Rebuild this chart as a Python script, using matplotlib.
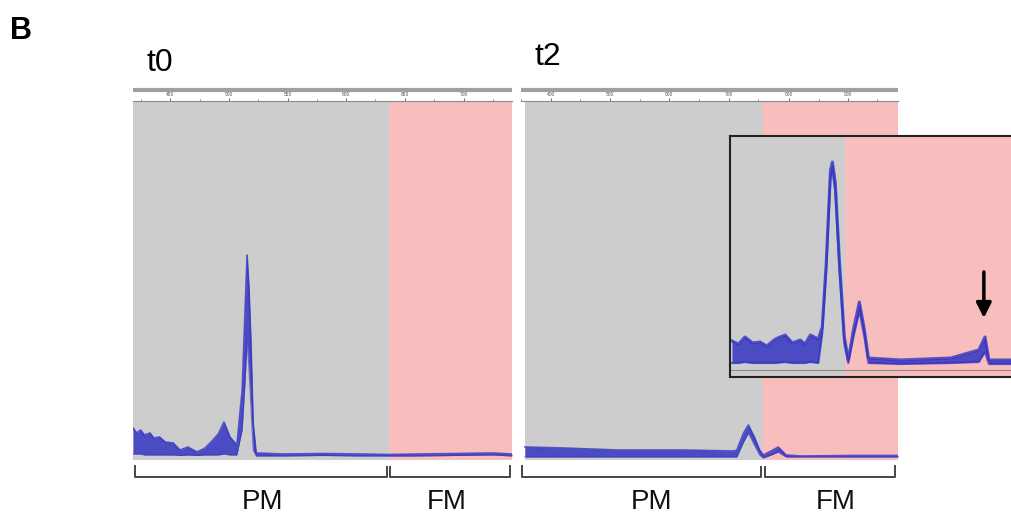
import matplotlib
matplotlib.use("Agg")
import matplotlib.pyplot as plt

plt.rcParams['font.family'] = ['Liberation Sans', 'DejaVu Sans']

W, H = 1012, 515

# ---------------- data ----------------
# t0 trace (x: 0-100 across the panel, y: height units above panel bottom)
t0_x = [0, 1, 2, 3, 4.5, 5.5, 7, 8.5, 10.6, 12.4, 14.5, 16.9, 19, 21.1, 22.5,
        24.0, 25.6, 27.4, 28.8, 29.6, 30.1, 30.6, 31.1, 31.7, 32.5, 40, 50,
        60, 67.5, 75, 85, 95, 100]
t0_upper = [32, 27, 30, 25, 27, 22, 23, 18, 17, 10, 13, 8, 12, 20, 26,
            38, 23, 15, 70, 153, 205, 172, 120, 37, 7, 6, 6.5,
            6, 5.5, 6, 6.5, 7, 6]
t0_lower = [6, 6, 6, 5, 5, 5, 5, 5, 5, 4.5, 5, 4.5, 5, 5, 5,
            6, 5, 5, 30, 80, 120, 90, 55, 10, 4, 4, 4.5,
            4, 4, 4, 4.5, 5, 4]
t0_boundary = 67.5

# t2 trace
t2_x = [0, 10.3, 24.9, 42.2, 56, 56.8, 58.6, 59.9, 61.5, 62.9, 63.9, 66.0,
        67.9, 70.0, 74, 87.3, 100]
t2_upper = [13, 12, 10, 10, 9, 10, 27, 35, 23, 10, 5, 9, 13, 5, 4, 4.5, 4.5]
t2_lower = [3, 3, 3, 3, 3, 3, 18, 27, 15, 5, 2, 5, 8, 3, 3, 3, 3]
t2_boundary = 63.9

# t2 zoomed inset
in_x = [0.7, 3.0, 5.3, 8.0, 10.6, 13.0, 16.0, 19.5, 22.0, 24.8, 26.5, 28.4,
        31.2, 32.6, 34.0, 35.5, 36.2, 37.2, 38.7, 40.4, 41.8, 43.6, 45.7,
        47.5, 48.9, 60.3, 78.0, 87.9, 90.1, 91.5, 100]
in_upper = [36, 33, 40, 34, 35, 31, 38, 42, 34, 37, 33, 42,
            38, 50, 114, 207, 215, 194, 114, 40, 17, 47, 75,
            47, 19, 17, 19, 27, 40, 17, 17]
in_lower = [14, 14, 15, 14, 14, 14, 14, 15, 14, 14, 14, 15,
            14, 44, 106, 199, 205, 186, 106, 33, 14, 40, 66,
            40, 14, 13, 14, 15, 25, 13, 13]
in_boundary = 40.8
arrow_x = 89.7
arrow_y = (105, 59)

# rulers
t0_ticks = [9.8, 25.3, 40.9, 56.2, 71.8, 87.3]
t0_ticklabels = ['450', '500', '550', '600', '650', '700']
t2_ticks = [6.9, 22.8, 38.7, 54.6, 70.8, 86.5]
t2_ticklabels = ['400', '500', '600', '700', '800', '900']

GRAY = '#cdcdcd'
PINK = '#f8bdbd'
BLUE = '#3434c2'


def rect(x0, y0, x1, y1):
    return [x0 / W, 1 - y1 / H, (x1 - x0) / W, (y1 - y0) / H]


fig = plt.figure(figsize=(W / 100, H / 100), dpi=100)


def panel(r, xs, up, lo, boundary, ticks, labels):
    ax = fig.add_axes(rect(*r))
    ax.set_xlim(0, 100)
    ax.set_ylim(0, r[3] - r[1])
    ax.axvspan(0, boundary, color=GRAY, lw=0)
    ax.axvspan(boundary, 100, color=PINK, lw=0)
    ax.fill_between(xs, lo, up, color=BLUE, alpha=0.85, lw=0)
    ax.plot(xs, up, color=BLUE, lw=1.2, alpha=0.8)
    ax.plot(xs, lo, color=BLUE, lw=0.8, alpha=0.6)
    for s in ['left', 'right', 'bottom']:
        ax.spines[s].set_visible(False)
    ax.spines['top'].set_color('#8a8a8a')
    ax.spines['top'].set_linewidth(0.8)
    ax.set_yticks([])
    ax.set_xticks(ticks)
    ax.set_xticklabels(labels)
    step = ticks[1] - ticks[0]
    ax.set_xticks([t + step / 2 for t in ticks[:-1]] +
                  [ticks[0] - step / 2, ticks[-1] + step / 2], minor=True)
    ax.tick_params(axis='x', which='both', top=True, bottom=False, labeltop=True,
                   labelbottom=False, labelsize=3.5, length=2, pad=1,
                   color='#777777', labelcolor='#555555', direction='out')
    ax.tick_params(axis='x', which='minor', length=1.5)
    return ax


ax0 = panel((133, 101, 512, 460), t0_x, t0_upper, t0_lower, t0_boundary,
            t0_ticks, t0_ticklabels)
ax2 = panel((521, 101, 898, 460), t2_x, t2_upper, t2_lower, t2_boundary,
            t2_ticks, t2_ticklabels)

# inset
axi = fig.add_axes(rect(730, 136, 1013, 377))
axi.set_xlim(0, 100)
axi.set_ylim(0, 241)
axi.axvspan(0, in_boundary, color=GRAY, lw=0)
axi.axvspan(in_boundary, 100, color=PINK, lw=0)
axi.axhline(7, color='#8a8a8a', lw=0.8)
axi.fill_between(in_x, in_lower, in_upper, color=BLUE, alpha=0.85, lw=0)
axi.plot(in_x, in_upper, color=BLUE, lw=2.2, alpha=0.8)
axi.plot(in_x, in_lower, color=BLUE, lw=1.6, alpha=0.7)
axi.set_xticks([])
axi.set_yticks([])
for s in axi.spines.values():
    s.set_color('#222222')
    s.set_linewidth(1.5)
axi.annotate('', xy=(arrow_x, arrow_y[1]), xytext=(arrow_x, arrow_y[0]),
             arrowprops=dict(arrowstyle='-|>,head_width=0.45,head_length=0.9',
                             color='black', lw=2.5, shrinkA=0, shrinkB=0))

# overlay for annotations (pixel coordinates)
ov = fig.add_axes([0, 0, 1, 1], zorder=-1)
ov.set_xlim(0, W)
ov.set_ylim(H, 0)
ov.axis('off')

# thick ruler lines
ov.plot([133, 512], [90, 90], color='#a0a0a0', lw=3, solid_capstyle='butt')
ov.plot([521, 898], [90, 90], color='#a0a0a0', lw=3, solid_capstyle='butt')

# brackets
bc = '#444444'
for pts in [
    [(135, 466), (135, 477), (387, 477), (387, 467)],
    [(390, 467), (390, 477), (510, 477), (510, 466)],
    [(522, 466), (522, 477), (761, 477), (761, 467)],
    [(765, 467), (765, 477), (895, 477), (895, 466)],
]:
    ov.plot([p[0] for p in pts], [p[1] for p in pts], color=bc, lw=1.4)

ov.text(10, 31, 'B', fontsize=22, fontweight='bold', va='center', ha='left')
ov.text(147, 63, 't0', fontsize=23, va='center', ha='left')
ov.text(535, 57, 't2', fontsize=23, va='center', ha='left')
for x, s in [(263, 'PM'), (447, 'FM'), (652, 'PM'), (836, 'FM')]:
    ov.text(x, 502, s, fontsize=20, va='center', ha='center', color='#111111')

fig.savefig('out.png', dpi=100)
